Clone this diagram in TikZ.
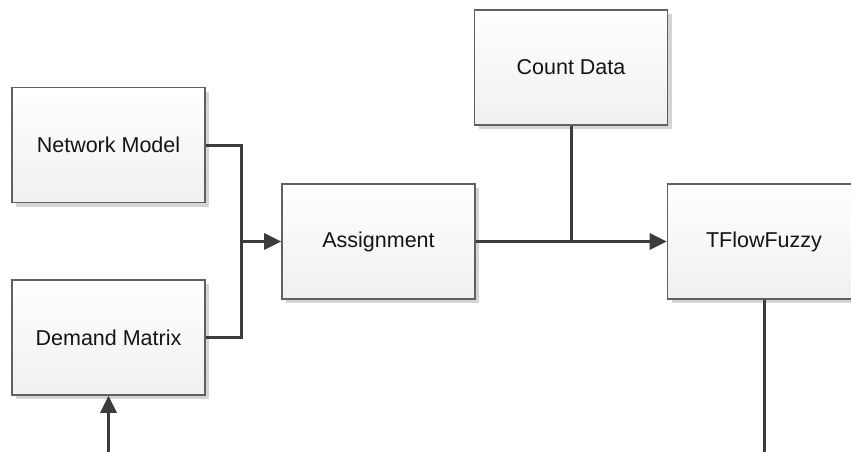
\documentclass[tikz,border=0pt]{standalone}
\usepackage{fontspec}
\setmainfont{Liberation Sans}
\usetikzlibrary{arrows.meta}
\definecolor{edgegray}{HTML}{606060}
\definecolor{linegray}{HTML}{3C3C3C}
\definecolor{shadowgray}{HTML}{D4D4D4}
\definecolor{textcol}{HTML}{141414}
\begin{document}
\begin{tikzpicture}[x=1pt,y=-1pt,
  box/.style={draw=edgegray,line width=1.6pt,top color=white,bottom color=black!6,
    minimum width=193pt,minimum height=115pt,inner sep=0pt,font=\fontsize{21.5}{24}\selectfont,
    text=textcol},
  conn/.style={draw=linegray,line width=3pt},
  arr/.style={conn,-{Triangle[length=17pt,width=16pt]}}]
\useasboundingbox (0,0) rectangle (851,452);
\foreach \cx/\cy in {108.5/145, 108.5/337.5, 378.5/241.5, 571/67.5, 764/241.5}
  \fill[shadowgray] (\cx-96.5+4,\cy-57.5+4) rectangle (\cx+96.5+4,\cy+57.5+4);
\node[box] (nm) at (108.5,145) {Network Model};
\node[box] (dm) at (108.5,337.5) {Demand Matrix};
\node[box] (as) at (378.5,241.5) {Assignment};
\node[box] (cd) at (571,67.5) {Count Data};
\node[box] (tf) at (764,241.5) {TFlowFuzzy};
\coordinate (jx) at (241,241.5);
\coordinate (dmin) at (108.5,452);
\coordinate (tfout) at (764,452);
\draw[conn] (nm.east) -| (jx);
\draw[conn] (dm.east) -| (jx);
\draw[arr] (jx) -- (as.west);
\draw[arr] (as.east) -- (tf.west);
\draw[conn] (cd.south) -- (cd.south |- as.east);
\draw[arr] (dmin) -- (dm.south);
\draw[conn] (tf.south) -- (tfout);
\end{tikzpicture}
\end{document}
